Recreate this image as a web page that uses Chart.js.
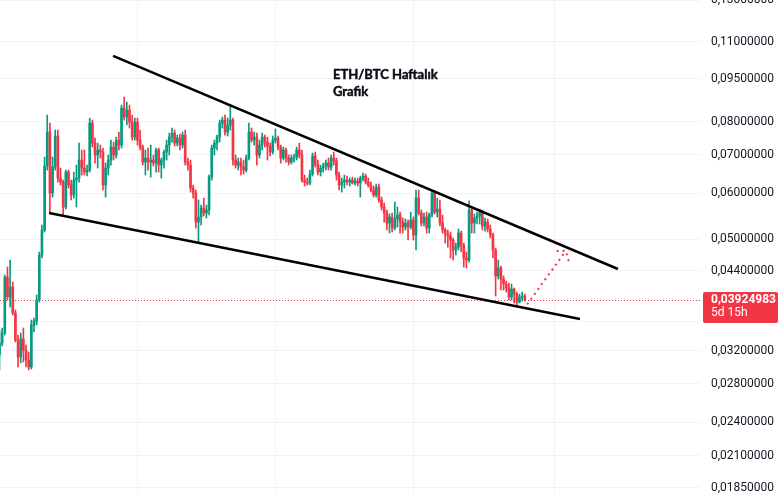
<!DOCTYPE html>
<html>
<head>
<meta charset="utf-8">
<script src="https://cdn.jsdelivr.net/npm/chart.js@4.4.1/dist/chart.umd.min.js"></script>
<style>
  html, body { margin: 0; padding: 0; background: #ffffff; }
  #wrap { position: relative; width: 781px; height: 493px; }
  canvas { display: block; }
</style>
</head>
<body>
<div id="wrap"><canvas id="c" width="781" height="493"></canvas></div>
<script>
// ETH/BTC weekly candles, week 0 = week of 2021-01-04
const open = [
  .03144, .03298, .03433, .04294, .03965, .04127, .03719, .03338, .03119, .03352,
  .03207, .03082, .02997, .03545, .03602, .03917, .04690, .05183, .06695, .07670,
  .06010, .06668, .07549, .06381, .06280, .05682, .06536, .06206, .05962, .06331,
  .06381, .06858, .06641, .06536, .06589, .07952, .07340, .06997, .07138, .07081,
  .06206, .06641, .06858, .07224, .06997, .07429, .07282, .08444, .08145, .08376,
  .07984, .07518, .07984, .07429, .07224, .06803, .06913, .06803, .06858, .06776,
  .07138, .06722, .06858, .07081, .07282, .07518, .07639, .07340, .07488, .07282,
  .07579, .06803, .06722, .06132, .06010, .05352, .05460, .05659, .05548, .05615,
  .06407, .07195, .07340, .07518, .07952, .08048, .07670, .07889, .08048, .06858,
  .06722, .06803, .06668, .06589, .06913, .07670, .07429, .07518, .06997, .07282,
  .07518, .07369, .07253, .07081, .07429, .07488, .07224, .06913, .07138, .06913,
  .06803, .06913, .06941, .07138, .06997, .06331, .06280, .06255, .06484, .06969,
  .06749, .06536, .06641, .06695, .06776, .06668, .06913, .06831, .06459, .06206,
  .06280, .06331, .06280, .06331, .06255, .06306, .06255, .06381, .06433, .06280,
  .06206, .06083, .05962, .06156, .05844, .05682, .05548, .05330, .05460, .05225,
  .05416, .05504, .05352, .05246, .05330, .05246, .05395, .05081, .05890, .05548,
  .05330, .05460, .05225, .05504, .06010, .05570, .05637, .05330, .05183, .05100,
  .05061, .04980, .04785, .04842, .05121, .04881, .04634, .04597, .05615, .05330,
  .05438, .05482, .05548, .05267, .05352, .05204, .05081, .04785, .04312, .04452,
  .04260, .04176, .04110, .03965, .04093, .04012, .03886, .03965, .03981
];
const high = [
  .03475, .03502, .04329, .04470, .04597, .04210, .03764, .03406, .03433, .03502,
  .03272, .03181, .03616, .03645, .03997, .04747, .05288, .06941, .08211, .07952,
  .06941, .07732, .07732, .06641, .06331, .06589, .06589, .06331, .06536, .06722,
  .07340, .07138, .07138, .06722, .08112, .08048, .07488, .07340, .07282, .07195,
  .06776, .06997, .07429, .07369, .07518, .07670, .08546, .08823, .08648, .08546,
  .08211, .08112, .08112, .07732, .07282, .07138, .07195, .07282, .06997, .07195,
  .07195, .06913, .07138, .07429, .07639, .07794, .07732, .07579, .07608, .07670,
  .07732, .06913, .06858, .06206, .06083, .05844, .05728, .05890, .05728, .06459,
  .07282, .07429, .07579, .08048, .08145, .08211, .08112, .08546, .08112, .06997,
  .06913, .06913, .06858, .06997, .07952, .07794, .07670, .07639, .07429, .07639,
  .07579, .07518, .07340, .07549, .07763, .07549, .07282, .07224, .07195, .06997,
  .06997, .07024, .07224, .07340, .07138, .06459, .06381, .06589, .07052, .07081,
  .06858, .06722, .06776, .06858, .06913, .06997, .07081, .06913, .06536, .06381,
  .06459, .06433, .06381, .06407, .06381, .06381, .06433, .06510, .06484, .06381,
  .06280, .06181, .06230, .06230, .05914, .05774, .05615, .05526, .05548, .05797,
  .05682, .05570, .05438, .05416, .05395, .05570, .05460, .06083, .06083, .05615,
  .05548, .05570, .05548, .06083, .06059, .05890, .05844, .05504, .05225, .05183,
  .05142, .05020, .04920, .05204, .05162, .04920, .04747, .05821, .05682, .05526,
  .05570, .05637, .05615, .05438, .05416, .05288, .05121, .04822, .04597, .04488,
  .04312, .04227, .04193, .04176, .04110, .04044, .04012, .04044, .04012
];
const low = [
  .02961, .03259, .03406, .03917, .03809, .03689, .03311, .02997, .03045, .03057,
  .02997, .02961, .02973, .03447, .03545, .03886, .04634, .05142, .06589, .05548,
  .05914, .06589, .06280, .06206, .05504, .05637, .06132, .05844, .05890, .05682,
  .06280, .06459, .06459, .06433, .06536, .07224, .06776, .06641, .06913, .06083,
  .05914, .06459, .06722, .06858, .06913, .07138, .07195, .08048, .07889, .07794,
  .07429, .07429, .07282, .07138, .06722, .06459, .06589, .06407, .06695, .06536,
  .06536, .06381, .06641, .06858, .06997, .07369, .07253, .07253, .07138, .07195,
  .06722, .06589, .06034, .05890, .05225, .04920, .05288, .05482, .05438, .05504,
  .06331, .06997, .07138, .07369, .07794, .07579, .07549, .07732, .06722, .06641,
  .06589, .06459, .06484, .06536, .06858, .07369, .07282, .06722, .06913, .07138,
  .07224, .06858, .06969, .07024, .07340, .07138, .06776, .06858, .06803, .06722,
  .06749, .06803, .06858, .06913, .06280, .06181, .06206, .06206, .06433, .06668,
  .06459, .06433, .06536, .06589, .06589, .06589, .06722, .06331, .06083, .06034,
  .06132, .06206, .06181, .06230, .06206, .06181, .05914, .06306, .06230, .06156,
  .06034, .05914, .05914, .05797, .05615, .05352, .05183, .05121, .05142, .05183,
  .05246, .05121, .05121, .05183, .04980, .05204, .04980, .04785, .05504, .05267,
  .05267, .05121, .05121, .05460, .05526, .05460, .05267, .05121, .04920, .04842,
  .04634, .04597, .04690, .04785, .04747, .04470, .04452, .04560, .05121, .05121,
  .05309, .05309, .05183, .05162, .05142, .05020, .04634, .03981, .04260, .04077,
  .04077, .04044, .03917, .03917, .03870, .03840, .03870, .03901, .03901
];
const close = [
  .03298, .03433, .04294, .03965, .04127, .03719, .03338, .03119, .03352, .03207,
  .03082, .02997, .03545, .03602, .03917, .04690, .05183, .06695, .07670, .06010,
  .06668, .07549, .06381, .06280, .05682, .06536, .06206, .05962, .06331, .06381,
  .06858, .06641, .06536, .06589, .07952, .07340, .06997, .07138, .07081, .06206,
  .06641, .06858, .07224, .06997, .07429, .07282, .08444, .08145, .08376, .07984,
  .07518, .07984, .07429, .07224, .06803, .06913, .06803, .06858, .06776, .07138,
  .06722, .06858, .07081, .07282, .07518, .07639, .07340, .07488, .07282, .07579,
  .06803, .06722, .06132, .06010, .05352, .05460, .05659, .05548, .05615, .06407,
  .07195, .07340, .07518, .07952, .08048, .07670, .07889, .08048, .06858, .06722,
  .06803, .06668, .06589, .06913, .07670, .07429, .07518, .06997, .07282, .07518,
  .07369, .07253, .07081, .07429, .07488, .07224, .06913, .07138, .06913, .06803,
  .06913, .06941, .07138, .06997, .06331, .06280, .06255, .06484, .06969, .06749,
  .06536, .06641, .06695, .06776, .06668, .06913, .06831, .06459, .06206, .06280,
  .06331, .06280, .06331, .06255, .06306, .06255, .06381, .06433, .06280, .06206,
  .06083, .05962, .06156, .05844, .05682, .05548, .05330, .05460, .05225, .05416,
  .05504, .05352, .05246, .05330, .05246, .05395, .05081, .05890, .05548, .05330,
  .05460, .05225, .05504, .06010, .05570, .05637, .05330, .05183, .05100, .05061,
  .04980, .04785, .04842, .05121, .04881, .04634, .04597, .05615, .05330, .05438,
  .05482, .05548, .05267, .05352, .05204, .05081, .04785, .04312, .04452, .04260,
  .04176, .04110, .03965, .04093, .04012, .03886, .03965, .03981, .03924983
];

// first week of each calendar year (2022, 2023, 2024, 2025)
const yearStartWeeks = [52, 104, 156, 209];
// price scale ticks
const priceTicks = [0.0185, 0.021, 0.024, 0.028, 0.032, 0.036, 0.044, 0.05, 0.06, 0.07, 0.08, 0.095, 0.11, 0.13];
const lastPrice = 0.03924983;
const barCountdown = '5d 15h';
const noteLines = ['ETH/BTC Haftalık', 'Grafik'];
const noteAnchor = { x: 125.7, y: 0.0948 };

// hand-drawn wedge lines and the projected breakout arrow (week, price)
const upperTrend = [{ x: 42.8, y: 0.1040 }, { x: 233.1, y: 0.04435 }];
const lowerTrend = [{ x: 18.7, y: 0.05548 }, { x: 218.8, y: 0.03631 }];
const arrowShaft = [{ x: 198.9, y: 0.0385 }, { x: 213.5, y: 0.0477 }];
const arrowHead  = [{ x: 210.0, y: 0.04766 }, { x: 213.5, y: 0.0477 }, { x: 214.7, y: 0.04555 }];

const UP = '#089981', DOWN = '#F23645', GRID = '#f0f3fa', TEXT = '#131722';
const visibleWeeks = { min: 0.1885, max: 264.04 };

const weeks = close.map((_, i) => i);
const colors = weeks.map(i => close[i] >= open[i] ? UP : DOWN);

const fmtPrice = v => v.toFixed(8).replace('.', ',');

const decorations = {
  id: 'decorations',
  beforeDatasetsDraw(chart) {
    const { ctx, chartArea: a, scales: { x, y } } = chart;
    ctx.save();
    ctx.strokeStyle = GRID;
    ctx.lineWidth = 1;
    yearStartWeeks.forEach(w => {
      const px = Math.round(x.getPixelForValue(w)) + 0.5;
      ctx.beginPath(); ctx.moveTo(px, a.top); ctx.lineTo(px, a.bottom); ctx.stroke();
    });
    const py = Math.round(y.getPixelForValue(lastPrice)) + 0.5;
    ctx.strokeStyle = DOWN;
    ctx.setLineDash([1, 2]);
    ctx.beginPath(); ctx.moveTo(a.left, py); ctx.lineTo(a.right + 2, py); ctx.stroke();
    ctx.restore();
  },
  afterDatasetsDraw(chart) {
    const { ctx, scales: { x, y } } = chart;
    ctx.save();
    ctx.fillStyle = '#0b0d14';
    ctx.strokeStyle = '#0b0d14';
    ctx.lineWidth = 0.45;
    ctx.font = 'bold 13px Lato';
    ctx.textBaseline = 'alphabetic';
    const nx = x.getPixelForValue(noteAnchor.x);
    const ny = y.getPixelForValue(noteAnchor.y);
    noteLines.forEach((t, i) => {
      ctx.fillText(t, nx, ny + i * 17);
      ctx.strokeText(t, nx, ny + i * 17);
    });
    ctx.restore();
  },
  afterDraw(chart) {
    const { ctx, scales: { y } } = chart;
    const py = y.getPixelForValue(lastPrice);
    ctx.save();
    ctx.fillStyle = DOWN;
    ctx.beginPath();
    ctx.roundRect(703, Math.round(py) - 8, 75, 31, 2);
    ctx.fill();
    ctx.fillStyle = '#ffffff';
    ctx.textBaseline = 'middle';
    ctx.font = 'bold 12px Roboto';
    ctx.fillText(fmtPrice(lastPrice), 711, py + 0.5);
    ctx.font = '12px Roboto';
    ctx.fillText(barCountdown, 711, py + 13);
    ctx.restore();
  }
};

const lineStyle = { type: 'line', pointRadius: 0, tension: 0, fill: false, order: 0 };

new Chart(document.getElementById('c'), {
  type: 'bar',
  data: {
    datasets: [
      { ...lineStyle, data: upperTrend, borderColor: '#000000', borderWidth: 2.5 },
      { ...lineStyle, data: lowerTrend, borderColor: '#000000', borderWidth: 2.5 },
      { ...lineStyle, data: arrowShaft, borderColor: DOWN, borderWidth: 2, borderDash: [2, 4], order: 1 },
      { ...lineStyle, data: arrowHead, borderColor: DOWN, borderWidth: 2, borderDash: [2, 4], order: 1 },
      {
        label: 'body', order: 2, grouped: false, barThickness: 2, borderWidth: 0,
        data: weeks.map(i => ({ x: i, y: [open[i], close[i]] })),
        backgroundColor: colors
      },
      {
        label: 'wick', order: 3, grouped: false, barThickness: 1, borderWidth: 0,
        data: weeks.map(i => ({ x: i, y: [low[i], high[i]] })),
        backgroundColor: colors
      }
    ]
  },
  options: {
    responsive: false,
    maintainAspectRatio: false,
    devicePixelRatio: 1,
    animation: false,
    layout: { padding: 0 },
    plugins: { legend: { display: false }, tooltip: { enabled: false } },
    scales: {
      x: {
        type: 'linear', display: false, offset: false,
        min: visibleWeeks.min, max: visibleWeeks.max
      },
      y: {
        type: 'logarithmic', position: 'right',
        min: 0.0181, max: 0.1301,
        afterBuildTicks: s => { s.ticks = priceTicks.map(v => ({ value: v })); },
        afterFit: s => { s.width = 81; s.paddingTop = 0; s.paddingBottom = 0; },
        border: { display: false },
        grid: { color: GRID, drawTicks: false },
        ticks: {
          autoSkip: false, padding: 11, color: TEXT,
          font: { family: 'Roboto', size: 12 },
          callback: v => Math.abs(Math.log(v / lastPrice)) < 0.1 ? '' : fmtPrice(v)
        }
      }
    }
  },
  plugins: [decorations]
});
</script>
</body>
</html>
